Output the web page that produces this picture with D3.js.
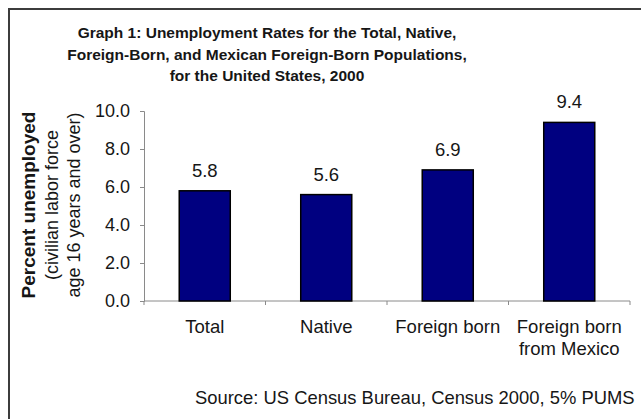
<!DOCTYPE html>
<html>
<head>
<meta charset="utf-8">
<script src="https://cdn.jsdelivr.net/npm/d3@7"></script>
<style>
  body { margin: 0; background: #fff; }
  svg { display: block; font-family: "Liberation Sans", Arial, sans-serif; }
</style>
</head>
<body>
<svg id="chart" width="641" height="419"></svg>
<script>
const categories = [["Total"], ["Native"], ["Foreign born"], ["Foreign born", "from Mexico"]];
const rates = [5.8, 5.6, 6.9, 9.4];
const yTicks = [0, 2, 4, 6, 8, 10];
const titleLines = [
  "Graph 1: Unemployment Rates for the Total, Native,",
  "Foreign-Born, and Mexican Foreign-Born Populations,",
  "for the United States, 2000"
];
const yTitleLines = ["Percent unemployed", "(civilian labor force", "age 16 years and over)"];
const sourceText = "Source: US Census Bureau, Census 2000, 5% PUMS";

const svg = d3.select("#chart");
const AXIS_COLOR = "#8a8a8a";
const TEXT_COLOR = "#161616";

// frame (open on the right and bottom, like the cropped original)
svg.append("path")
  .attr("d", "M9,425 L9,9 L650,9")
  .attr("fill", "none")
  .attr("stroke", "#3c3c3c")
  .attr("stroke-width", 2);

// title
svg.append("g")
  .selectAll("text")
  .data(titleLines)
  .join("text")
  .attr("x", 267)
  .attr("y", (d, i) => 38 + i * 21.5)
  .attr("text-anchor", "middle")
  .style("font-size", "15.5px")
  .style("font-weight", "bold")
  .attr("fill", TEXT_COLOR)
  .text(d => d);

const x = d3.scaleBand()
  .domain(categories.map((d, i) => i))
  .range([144, 630])
  .paddingInner(0.58)
  .paddingOuter(0.29);

const y = d3.scaleLinear().domain([0, 10]).range([301, 111]);

// y axis
const yAxis = svg.append("g")
  .attr("transform", "translate(144,0)")
  .call(d3.axisLeft(y).tickValues(yTicks).tickFormat(d3.format(".1f")).tickSize(4).tickPadding(10));
yAxis.select(".domain").attr("stroke", AXIS_COLOR);
yAxis.selectAll(".tick line").attr("stroke", AXIS_COLOR);
yAxis.selectAll(".tick text")
  .style("font-size", "18px")
  .style("font-family", "'Liberation Sans', Arial, sans-serif")
  .attr("fill", TEXT_COLOR);

// x axis: line plus ticks at the category boundaries
const xAxis = svg.append("g");
xAxis.append("line")
  .attr("x1", x.range()[0]).attr("x2", x.range()[1])
  .attr("y1", y(0)).attr("y2", y(0))
  .attr("stroke", AXIS_COLOR);
xAxis.selectAll(".xtick")
  .data(d3.range(categories.length + 1))
  .join("line")
  .attr("class", "xtick")
  .attr("x1", i => x.range()[0] + i * x.step())
  .attr("x2", i => x.range()[0] + i * x.step())
  .attr("y1", y(0))
  .attr("y2", y(0) + 4)
  .attr("stroke", AXIS_COLOR);

// bars
svg.append("g")
  .selectAll("rect")
  .data(rates)
  .join("rect")
  .attr("x", (d, i) => x(i))
  .attr("y", d => y(d))
  .attr("width", x.bandwidth())
  .attr("height", d => y(0) - y(d))
  .attr("fill", "#000080")
  .attr("stroke", "#000")
  .attr("stroke-width", 1.5);

// value labels
svg.append("g")
  .selectAll("text")
  .data(rates)
  .join("text")
  .attr("x", (d, i) => x(i) + x.bandwidth() / 2)
  .attr("y", d => y(d) - 14)
  .attr("text-anchor", "middle")
  .style("font-size", "18.5px")
  .attr("fill", TEXT_COLOR)
  .text(d => d3.format(".1f")(d));

// category labels
const catLabels = svg.append("g")
  .selectAll("text")
  .data(categories)
  .join("text")
  .attr("text-anchor", "middle")
  .style("font-size", "18.5px")
  .attr("fill", TEXT_COLOR);
catLabels.selectAll("tspan")
  .data((d, i) => d.map(line => ({ line, i })))
  .join("tspan")
  .attr("x", d => x(d.i) + x.bandwidth() / 2)
  .attr("y", (d, j) => 333 + j * 21.5)
  .text(d => d.line);

// y axis title
svg.append("g")
  .attr("transform", "translate(0,205) rotate(-90)")
  .selectAll("text")
  .data(yTitleLines)
  .join("text")
  .attr("x", 0)
  .attr("y", (d, i) => [34.5, 58, 80][i])
  .attr("text-anchor", "middle")
  .style("font-size", (d, i) => i === 0 ? "19px" : "18px")
  .style("font-weight", (d, i) => i === 0 ? "bold" : "normal")
  .attr("fill", TEXT_COLOR)
  .text(d => d);

// source note (kept just inside the right edge)
svg.append("text")
  .attr("x", 195)
  .attr("y", 404)
  .style("font-size", "18.4px")
  .attr("fill", TEXT_COLOR)
  .text(sourceText);
</script>
</body>
</html>
